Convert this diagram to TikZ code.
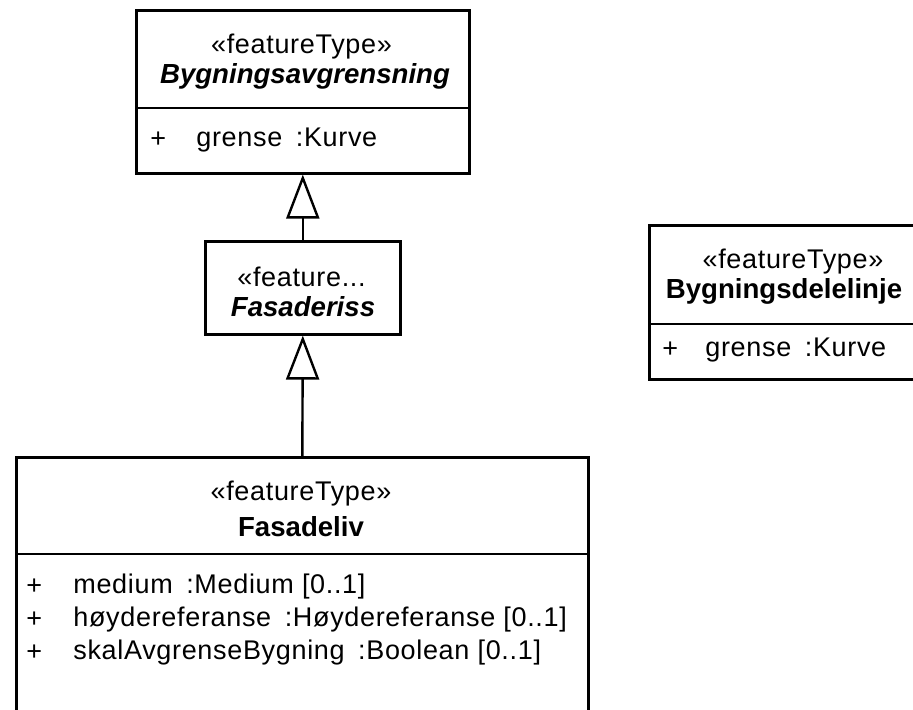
\documentclass[tikz,border=0pt]{standalone}
\usepackage{fontspec}
\setmainfont{Liberation Sans}
\usetikzlibrary{arrows.meta}

\tikzset{
  classbox/.style={draw, line width=1.3pt, rectangle, anchor=north west, inner sep=0pt},
  divider/.style={line width=1.3pt},
  txt/.style={inner sep=0pt, font=\fontsize{13.5}{16}\selectfont\addfontfeature{LetterSpace=2.5}},
  classname/.style={inner sep=0pt, font=\fontsize{13.8}{16}\selectfont\bfseries},
  attr/.style={txt, anchor=west},
  generalization/.style={line width=1.2pt, -{Triangle[open, length=22pt, width=16.5pt, line width=1.2pt]}}
}

\begin{document}
\begin{tikzpicture}[x=0.5pt, y=-0.5pt]
  \clip (0,0) rectangle (913,710);

  % boxes
  \node[classbox, minimum width=166.5pt, minimum height=81.5pt] (avgr) at (135,9) {};
  \node[classbox, minimum width=97.5pt, minimum height=46.5pt] (riss) at (204,240) {};
  \node[classbox, minimum width=286pt, minimum height=137pt] (liv) at (15,456) {};
  \node[classbox, minimum width=141pt, minimum height=77pt] (linje) at (648,224) {};

  \draw[divider] (135,108) -- (468,108);
  \draw[divider] (15,554) -- (587,554);
  \draw[divider] (648,324) -- (930,324);

  % Bygningsavgrensning
  \node[txt] (avgrS) at (301.5,47) {«featureType»};
  \node[classname] (avgrN) at (305,76) {\itshape Bygningsavgrensning};
  \node[attr] (avgrP) at (150,140) {+};
  \node[attr] (avgrA) at (196,140) {grense\enspace:Kurve};

  % Fasaderiss
  \node[txt] (rissS) at (301.5,277) {«feature...};
  \node[classname] (rissN) at (303,307) {\itshape Fasaderiss};

  % Fasadeliv
  \node[txt] (livS) at (301,494) {«featureType»};
  \node[classname] (livN) at (301,527) {Fasadeliv};
  \node[attr] (livP1) at (26,587) {+};
  \node[attr] (livA1) at (73,587) {medium\enspace:Medium [0..1]};
  \node[attr] (livP2) at (26,620) {+};
  \node[attr] (livA2) at (73,620) {høydereferanse\enspace:Høydereferanse [0..1]};
  \node[attr] (livP3) at (26,653) {+};
  \node[attr] (livA3) at (73,653) {skalAvgrenseBygning\enspace:Boolean [0..1]};

  % Bygningsdelelinje
  \node[txt] (linjeS) at (793,262) {«featureType»};
  \node[classname] (linjeN) at (784,291) {Bygningsdelelinje};
  \node[attr] (linjeP) at (662,350) {+};
  \node[attr] (linjeA) at (705,350) {grense\enspace:Kurve};

  % generalizations
  \draw[generalization] (riss.north) -- (avgr.south);
  \draw[generalization] (liv.north) -- (riss.south);

\end{tikzpicture}
\end{document}
